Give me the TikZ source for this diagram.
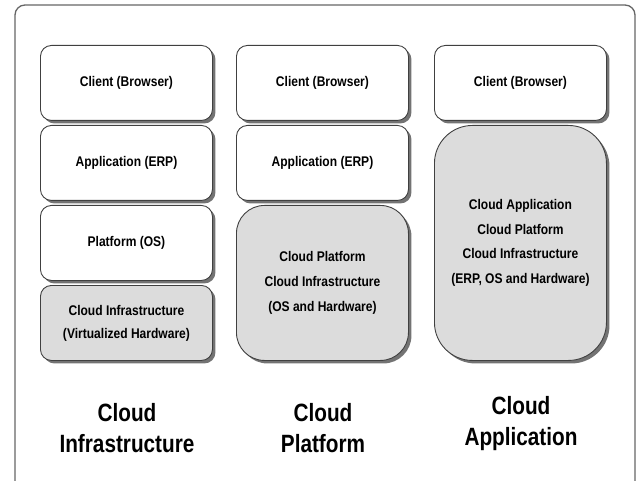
\documentclass[tikz,border=0pt]{standalone}
\usepackage{fontspec}
\setmainfont{Liberation Sans}
\newfontfamily\narrowf[FakeStretch=0.86]{Liberation Sans}
\newfontfamily\labelf[FakeStretch=0.83]{Liberation Sans}
\usetikzlibrary{shadows}
\definecolor{boxgray}{HTML}{DCDCDC}
\definecolor{edgegray}{HTML}{404040}
\definecolor{framegray}{HTML}{666666}
\tikzset{
  layerbox/.style={draw=edgegray, line width=0.9pt, rounded corners=11pt, fill=white,
    anchor=north west, minimum width=172pt, inner sep=0pt,
    font=\narrowf\bfseries\fontsize{14}{24.7}\selectfont, align=center,
    drop shadow={shadow xshift=3pt, shadow yshift=-3pt, fill=black!55, opacity=1}},
  cloudbox/.style={layerbox, fill=boxgray},
  biglabel/.style={font=\labelf\bfseries\fontsize{25}{31}\selectfont, align=center, inner sep=0pt}
}
\begin{document}
\begin{tikzpicture}[x=1pt,y=-1pt]
\useasboundingbox (0,0) rectangle (637,481);
\begin{scope}
\clip (0,0) rectangle (637,481);
\draw[framegray, line width=1.3pt, rounded corners=10pt] (15,5) rectangle (635,492);
\end{scope}
% column 1
\node[layerbox, minimum height=75pt] (c1) at (40,45) {Client (Browser)};
\node[layerbox, minimum height=75pt] (a1) at (40,125) {Application (ERP)};
\node[layerbox, minimum height=75pt] (p1) at (40,205) {Platform (OS)};
\node[cloudbox, minimum height=75pt, font=\narrowf\bfseries\fontsize{14}{23}\selectfont] (i1) at (40,285) {Cloud Infrastructure\\(Virtualized Hardware)};
% column 2
\node[layerbox, minimum height=75pt] (c2) at (236,45) {Client (Browser)};
\node[layerbox, minimum height=75pt] (a2) at (236,125) {Application (ERP)};
\node[cloudbox, minimum height=155pt, rounded corners=28pt] (p2) at (236,205) {Cloud Platform\\Cloud Infrastructure\\(OS and Hardware)};
% column 3
\node[layerbox, minimum height=75pt] (c3) at (434,45) {Client (Browser)};
\node[cloudbox, minimum height=235pt, rounded corners=38pt] (p3) at (434,125) {Cloud Application\\Cloud Platform\\Cloud Infrastructure\\(ERP, OS and Hardware)};
% labels
\node[biglabel] (l1) at (127,428) {Cloud\\Infrastructure};
\node[biglabel] (l2) at (323,428) {Cloud\\Platform};
\node[biglabel] (l3) at (521,424) {Cloud\\Application};
\end{tikzpicture}
\end{document}
